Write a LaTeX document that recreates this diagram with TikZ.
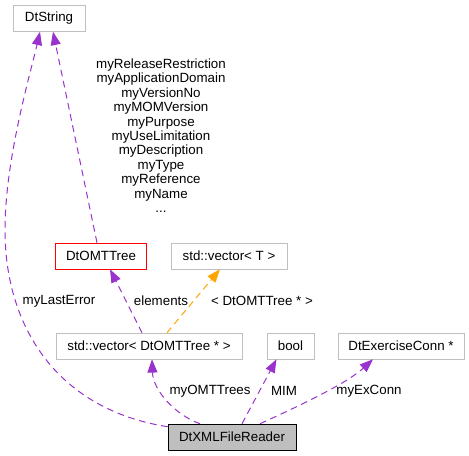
\documentclass[tikz,border=0pt]{standalone}
\usepackage{fontspec}
\setmainfont{Liberation Sans}
\usetikzlibrary{shapes,positioning,arrows,arrows.meta,calc}
\usepackage{xcolor}
\definecolor{edgePurple}{HTML}{9A32CD}
\definecolor{edgeOrange}{HTML}{FFA500}
\definecolor{boxGray}{HTML}{BFBFBF}

\begin{document}
\begin{tikzpicture}[x=0.75pt,y=-0.75pt]

    \tikzstyle{cls}=[draw=boxGray, rectangle, minimum height=19.5pt, inner sep=2pt, font=\fontsize{10}{12}\selectfont];
    \tikzstyle{usage}=[->, draw=edgePurple, dash pattern=on 5pt off 3.5pt, line width=0.75pt];
    \tikzstyle{tmpl}=[->, draw=edgeOrange, dash pattern=on 5pt off 3.5pt, line width=0.75pt];
    \tikzstyle{lbl}=[inner sep=0pt, font=\fontsize{10}{10.8}\selectfont];

    \useasboundingbox (0,0) rectangle (469,456);

    \begin{scope}[>={Triangle[length=10pt,width=7.5pt]}]
      \node (dtString) at (49,18.5) [cls, minimum width=54pt]{DtString};
      \node (omtTree) at (101,256) [cls, draw=red, minimum width=68.25pt]{DtOMTTree};
      \node (vecT) at (229,256) [cls, minimum width=87pt]{std::vector< T >};
      \node (vecOmt) at (149,346) [cls, minimum width=139.5pt]{std::vector< DtOMTTree * >};
      \node (boolType) at (290.5,346) [cls, minimum width=35.25pt]{bool};
      \node (exConn) at (401,346) [cls, minimum width=94.5pt]{DtExerciseConn *};
      \node (reader) at (232,437) [cls, draw=black, fill=boxGray, minimum width=96pt]{DtXMLFileReader};

      \draw [usage] ([yshift=-2.25pt]reader.north west) .. controls (60,410) and (5,330) .. (5,230)
            .. controls (5,160) and (30,75) .. ([xshift=-6.75pt]dtString.south);
      \node (lastErrLbl) at (59,301) [lbl]{myLastError};

      \draw [usage] ([xshift=-3pt]omtTree.north) -- ([xshift=3pt]dtString.south);
      \node (treeLbl) at (161,135.7) [lbl, align=center]{myReleaseRestriction\\myApplicationDomain\\myVersionNo\\myMOMVersion\\myPurpose\\myUseLimitation\\myDescription\\myType\\myReference\\myName\\...};

      \draw [usage] ([xshift=-5.25pt]vecOmt.north) -- ([xshift=6.75pt]omtTree.south);
      \node (elemLbl) at (161,301) [lbl]{elements};

      \draw [tmpl] ([xshift=13.5pt]vecOmt.north) -- ([xshift=-6.75pt]vecT.south);
      \node (tmplLbl) at (262,301) [lbl]{< DtOMTTree * >};

      \draw [usage] ([xshift=-24pt]reader.north) .. controls (175,415) and (153,390) .. ([xshift=2.25pt]vecOmt.south);
      \node (omtLbl) at (210,391) [lbl]{myOMTTrees};

      \draw [usage] ([xshift=7.5pt]reader.north) -- ([xshift=-10.5pt]boolType.south);
      \node (mimLbl) at (284,391) [lbl]{MIM};

      \draw [usage] ([xshift=21pt]reader.north) .. controls (290,410) and (345,385) .. ([xshift=-21pt]exConn.south);
      \node (exLbl) at (369,391) [lbl]{myExConn};

    \end{scope}
   \end{tikzpicture}
\end{document}
